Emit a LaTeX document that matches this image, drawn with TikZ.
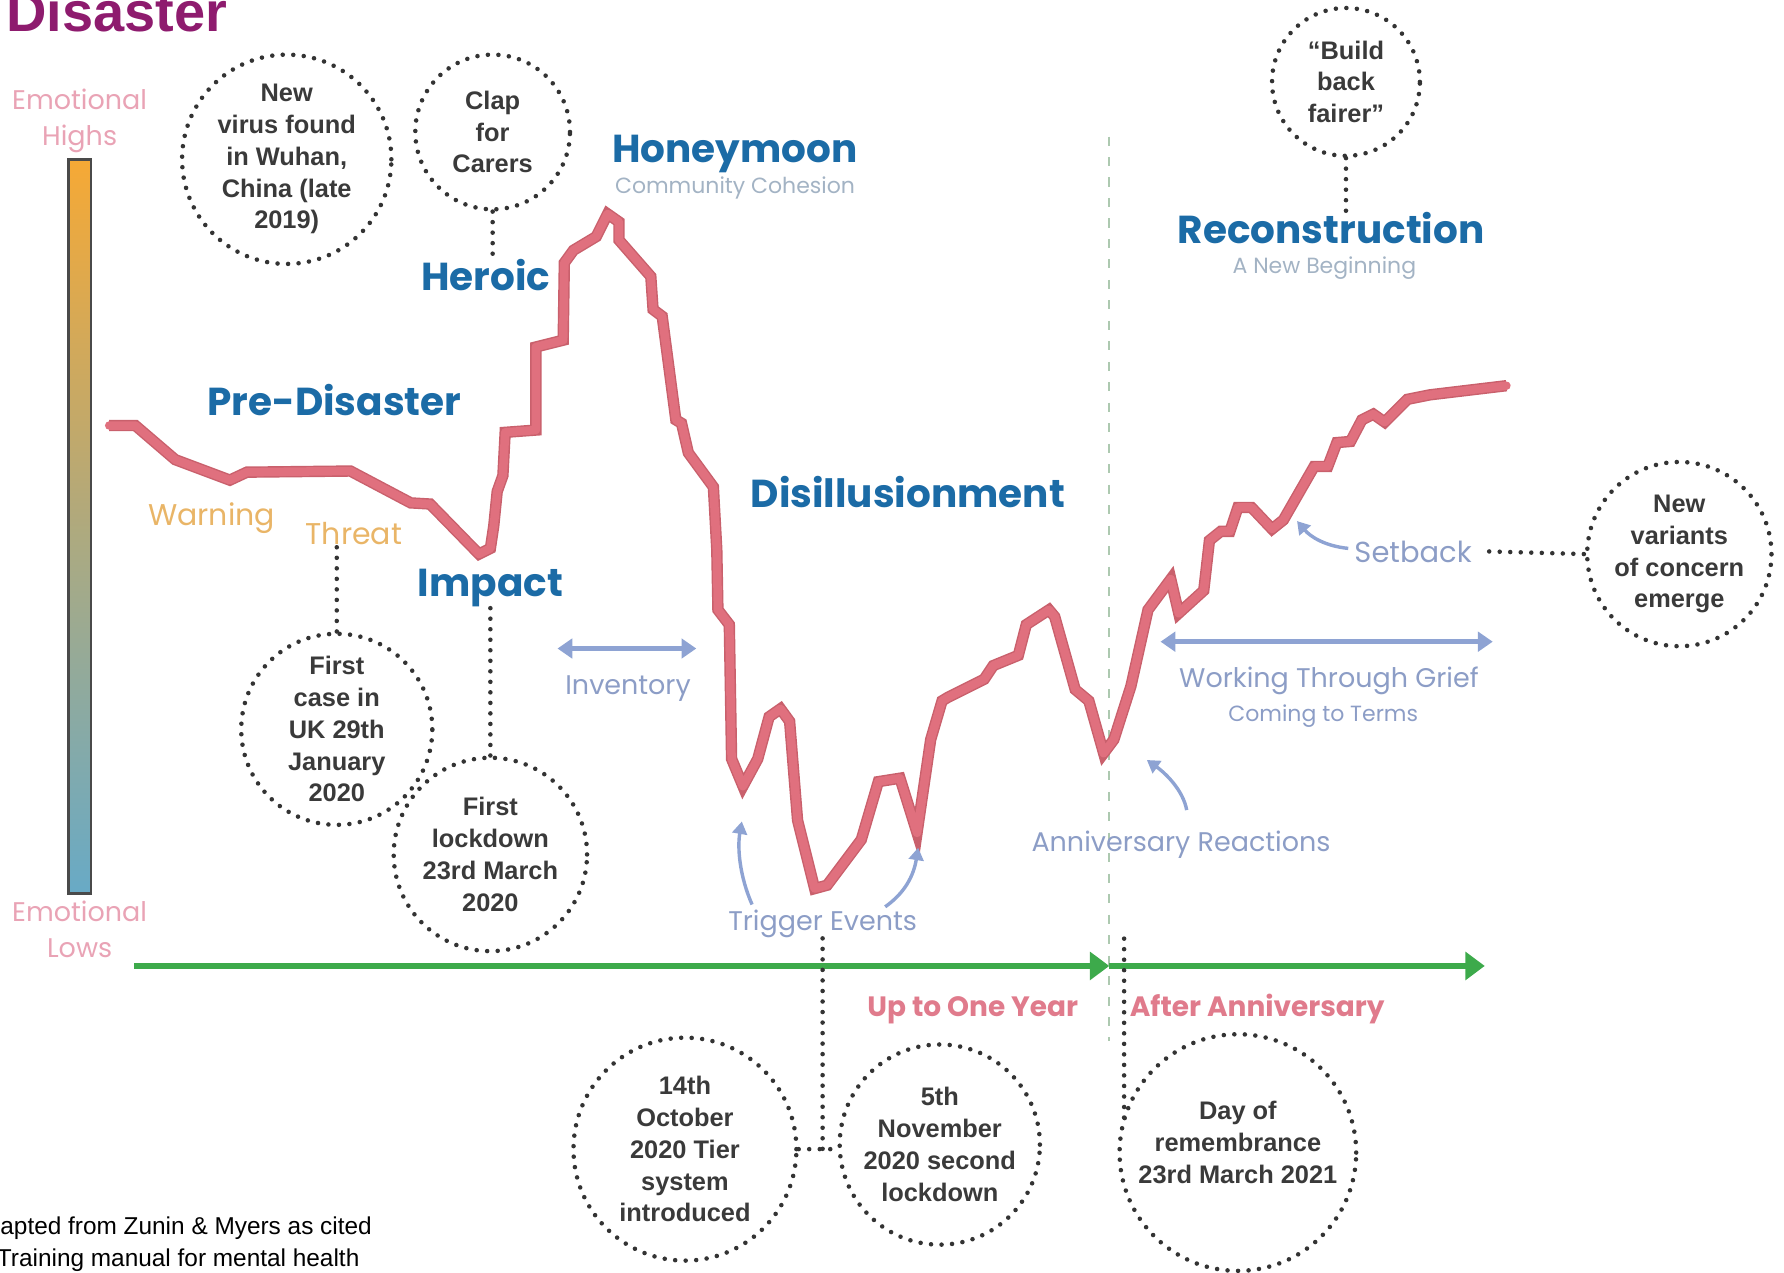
\documentclass[tikz,border=0pt]{standalone}
\usepackage{fontspec}
\setmainfont{Liberation Sans}
\newfontfamily\stagefont{Poppins}
\usetikzlibrary{arrows.meta}
\definecolor{titlepurple}{HTML}{8E1B6E}
\definecolor{stageblue}{HTML}{1B6BA6}
\definecolor{subgrey}{HTML}{A3B3C4}
\definecolor{warnorange}{HTML}{E9B567}
\definecolor{notegrey}{HTML}{8C9DC6}
\definecolor{arrowblue}{HTML}{8EA3D3}
\definecolor{emopink}{HTML}{E9A3B5}
\definecolor{yearpink}{HTML}{E07B8C}
\definecolor{curvepink}{HTML}{E0707E}
\definecolor{curveedge}{HTML}{C9606C}
\definecolor{timegreen}{HTML}{3DAA4B}
\definecolor{dashgreen}{HTML}{ADC9B0}
\definecolor{dotgrey}{HTML}{333333}
\definecolor{circtext}{HTML}{3A3A3A}
\definecolor{bartop}{HTML}{F6A935}
\definecolor{barbottom}{HTML}{68AAC6}
\definecolor{bargrey}{HTML}{4A4A4A}

\begin{document}
\begin{tikzpicture}[x=0.02cm,y=-0.02cm,
  eventcirc/.style={circle,draw=dotgrey,line width=0.08cm,dash pattern=on 0pt off 0.185cm,line cap=round,inner sep=0pt,minimum size=#1,align=center,text=circtext,font=\fontsize{12.7}{15.9}\selectfont\bfseries},
  dotlink/.style={draw=dotgrey,line width=0.08cm,dash pattern=on 0pt off 0.185cm,line cap=round},
  stagelbl/.style={anchor=base,inner sep=0pt,text=stageblue,font=\stagefont\fontsize{19.5}{22}\selectfont\bfseries},
  sublbl/.style={anchor=base,inner sep=0pt,text=subgrey,font=\stagefont\fontsize{11}{13}\selectfont},
  phaselbl/.style={anchor=base,inner sep=0pt,text=warnorange,font=\stagefont\fontsize{15}{17}\selectfont},
  notelbl/.style={anchor=base,inner sep=0pt,text=notegrey,font=\stagefont\fontsize{13.5}{16}\selectfont},
  emolbl/.style={anchor=base,inner sep=0pt,text=emopink,font=\stagefont\fontsize{13.5}{16}\selectfont},
  periodlbl/.style={anchor=base,inner sep=0pt,text=yearpink,font=\stagefont\fontsize{14}{16}\selectfont\bfseries},
  timearrow/.style={timegreen,line width=0.1cm,-{Triangle[length=0.34cm,width=0.48cm]}},
  spanarrow/.style={arrowblue,line width=0.08cm,{Triangle[length=0.26cm,width=0.34cm]}-{Triangle[length=0.26cm,width=0.34cm]}},
  hintarrow/.style={arrowblue,line width=0.06cm,-{Triangle[length=0.22cm,width=0.26cm]}},
  griefline/.style={curvepink,line width=0.15cm,line join=round,line cap=round,preaction={draw=curveedge,line width=0.2cm}}
]
\useasboundingbox (0,0) rectangle (1568,1118);
\clip (0,0) rectangle (1568,1118);

\node[anchor=base west,inner sep=0pt,text=titlepurple,font=\fontsize{28}{30}\selectfont\bfseries] (title) at (5,28) {Disaster};

\node[emolbl] (emohigh) at (70,96) {Emotional};
\node[emolbl] (emohigh2) at (70,128) {Highs};
\node[emolbl] (emolow) at (70,810) {Emotional};
\node[emolbl] (emolow2) at (70,842) {Lows};
\shade[top color=bartop,bottom color=barbottom] (60,140) rectangle (80,785);
\draw[bargrey,line width=0.05cm] (60,140) rectangle (80,785);

\draw[dashgreen,line width=0.04cm,dash pattern=on 0.16cm off 0.2cm] (975,120) -- (975,915);

\coordinate (tstart) at (118,849);
\coordinate (tmid) at (975,849);
\coordinate (tend) at (1305,849);
\draw[timearrow] (tstart) -- (tmid);
\draw[timearrow] (tmid) -- (tend);
\node[periodlbl] (upyear) at (855,893) {Up to One Year};
\node[periodlbl] (afterann) at (1105,893) {After Anniversary};

\draw[griefline] (96,374) -- (119,374) -- (154,404) -- (202,422) -- (217,415) -- (308,414)
  -- (361,442) -- (378,443) -- (421,487) -- (431,482) -- (434,462) -- (437,432) -- (442,418)
  -- (444,380) -- (471,378) -- (471,305) -- (495,299) -- (496,231) -- (504,220) -- (524,208)
  -- (534,188) -- (544,195) -- (544,211) -- (572,243) -- (574,272) -- (582,278) -- (594,369)
  -- (599,372) -- (605,398) -- (627,428) -- (630,483) -- (631,536) -- (641,549) -- (643,667)
  -- (653,691) -- (666,667) -- (676,630) -- (686,623) -- (694,634) -- (701,721) -- (716,781)
  -- (727,778) -- (757,738) -- (772,687) -- (791,684) -- (806,732) -- (818,650) -- (828,616)
  -- (833,613) -- (865,597) -- (873,585) -- (895,576) -- (902,549) -- (922,536) -- (927,542)
  -- (945,606) -- (957,616) -- (970,662) -- (979,650) -- (994,603) -- (1009,536) -- (1029,509)
  -- (1036,539) -- (1058,519) -- (1063,475) -- (1073,467) -- (1081,467) -- (1088,446)
  -- (1100,446) -- (1118,465) -- (1128,457) -- (1155,410) -- (1167,410) -- (1175,389)
  -- (1187,388) -- (1197,369) -- (1207,364) -- (1217,371) -- (1237,351) -- (1257,347) -- (1324,339);

\node[stagelbl] (honey) at (646,143) {Honeymoon};
\node[sublbl] (honeysub) at (646,170) {Community Cohesion};
\node[stagelbl] (heroic) at (427,255) {Heroic};
\node[stagelbl] (predis) at (294,365) {Pre-Disaster};
\node[stagelbl] (impact) at (431,524) {Impact};
\node[stagelbl] (disill) at (798,446) {Disillusionment};
\node[stagelbl] (recon) at (1170,214) {Reconstruction};
\node[sublbl] (reconsub) at (1164,240) {A New Beginning};
\node[phaselbl] (warning) at (186,462) {Warning};
\node[phaselbl] (threat) at (311,479) {Threat};

\node[notelbl] (inventory) at (552,610) {Inventory};
\coordinate (invl) at (490,570);
\coordinate (invr) at (612,570);
\draw[spanarrow] (invl) -- (invr);
\node[notelbl] (trigger) at (723,818) {Trigger Events};
\draw[hintarrow] (661,795) .. controls (650,770) and (648,745) .. (652,722);
\draw[hintarrow] (778,797) .. controls (795,785) and (803,770) .. (807,745);
\node[notelbl] (anniv) at (1038,748) {Anniversary Reactions};
\draw[hintarrow] (1043,712) .. controls (1040,695) and (1025,680) .. (1008,668);
\node[notelbl,font=\stagefont\fontsize{14.5}{16}\selectfont] (setback) at (1242,494) {Setback};
\draw[hintarrow] (1185,482) .. controls (1165,480) and (1152,472) .. (1140,458);
\node[notelbl] (working) at (1168,604) {Working Through Grief};
\node[notelbl,font=\stagefont\fontsize{11}{13}\selectfont] (workingsub) at (1163,634) {Coming to Terms};
\coordinate (workl) at (1020,564);
\coordinate (workr) at (1312,564);
\draw[spanarrow] (workl) -- (workr);

\node[eventcirc=3.68cm] (wuhan) at (252,140) {New\\virus found\\in Wuhan,\\China (late\\2019)};
\node[eventcirc=2.72cm] (clap) at (433,116) {Clap\\for\\Carers};
\node[eventcirc=2.6cm] (fairer) at (1183,72) {\char"201C Build\\back\\fairer\char"201D};
\node[eventcirc=3.24cm] (variants) at (1476,487) {New\\variants\\of concern\\emerge};
\node[eventcirc=3.36cm] (firstcase) at (296,641) {First\\case in\\UK 29th\\January\\2020};
\node[eventcirc=3.4cm] (lockdown) at (431,751) {First\\lockdown\\23rd March\\2020};
\node[eventcirc=3.92cm] (tier) at (602,1010) {14th\\October\\2020 Tier\\system\\introduced};
\node[eventcirc=3.52cm] (secondlock) at (826,1006) {5th\\November\\2020 second\\lockdown};
\node[eventcirc=4.16cm] (remember) at (1088,1013) {};
\node[align=center,inner sep=0pt,text=circtext,font=\fontsize{12.7}{15.9}\selectfont\bfseries] (remembertext) at (1088,1004) {Day of\\remembrance\\23rd March 2021};

\draw[dotlink] (clap.south) -- (clap.south |- heroic.north);
\draw[dotlink] (fairer.south) -- (fairer.south |- recon.north);
\draw[dotlink] ([xshift=0.3cm]setback.east) -- (variants.west);
\draw[dotlink] (firstcase.north) -- (firstcase.north |- threat.south);
\draw[dotlink] (lockdown.north) -- (impact.south);
\draw[dotlink] (trigger.south) -- (trigger.south |- tier.east);
\draw[dotlink] (tier.east) -- (tier.east -| secondlock.west);
\coordinate (annivtick) at (988,825);
\draw[dotlink] (annivtick) -- (annivtick |- remember.165);

\node[anchor=base west,inner sep=0pt,font=\fontsize{12.2}{14}\selectfont] (credita) at (0,1085) {apted from Zunin \& Myers as cited};
\node[anchor=base west,inner sep=0pt,font=\fontsize{12.2}{14}\selectfont] (creditb) at (-3,1113) {Training manual for mental health};
\end{tikzpicture}
\end{document}
